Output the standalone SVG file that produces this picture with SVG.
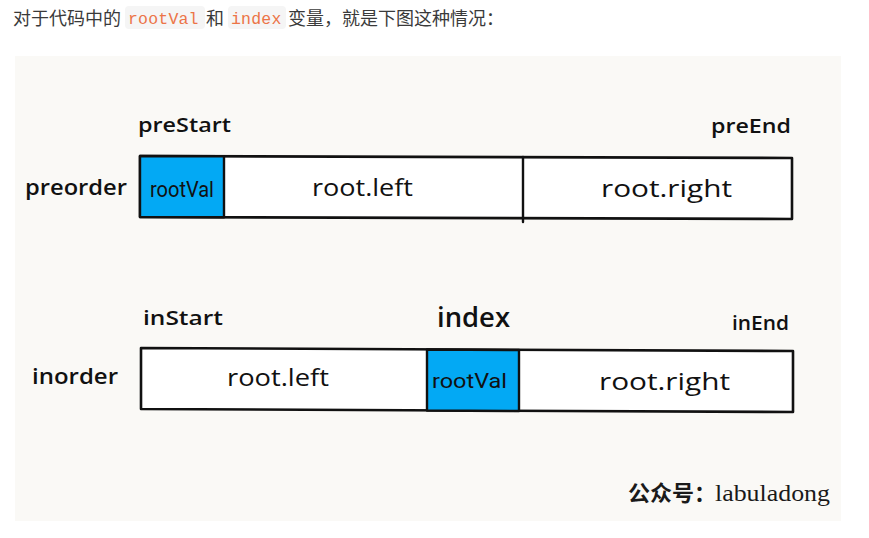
<svg xmlns="http://www.w3.org/2000/svg" width="869" height="538" viewBox="0 0 869 538">
<style>
.cn{font-family:"Noto Sans CJK SC","Noto Sans",sans-serif;font-size:18px;fill:#3a3a3a}
.code{font-family:"Liberation Mono",monospace;font-size:16.5px;fill:#ec7447;letter-spacing:0.2px}
.codebg{fill:#f5f5f5}
.lbl{font-family:"Open Sans","DejaVu Sans",sans-serif;font-weight:600;fill:#111}
.cell{font-family:"Open Sans","DejaVu Sans",sans-serif;font-weight:500;fill:#111}
.rv{font-family:"Roboto","Liberation Sans",sans-serif;font-weight:400;fill:#111}
.bar{fill:#ffffff;stroke:#111;stroke-width:2.6;stroke-linejoin:round}
.blue{fill:#03a9f4;stroke:#111;stroke-width:2.4;stroke-linejoin:round}
.div{stroke:#111;stroke-width:2.4;fill:none;stroke-linecap:round}
</style>
<rect width="869" height="538" fill="#ffffff"/>
<g id="caption">
<rect class="codebg" x="125" y="6" width="80" height="23" rx="4"/>
<rect class="codebg" x="228" y="6" width="58" height="23" rx="4"/>
<text class="cn" x="13" y="25">对于代码中的</text>
<text class="code" x="128" y="24">rootVal</text>
<text class="cn" x="206" y="25">和</text>
<text class="code" x="231" y="24">index</text>
<text class="cn" x="288" y="25">变量，就是下图这种情况：</text>
</g>
<rect id="panel" x="15" y="56" width="826" height="465" fill="#faf9f6"/>
<g id="preorder">
<text class="lbl" x="25" y="195" font-size="22" textLength="102" lengthAdjust="spacingAndGlyphs">preorder</text>
<text class="lbl" x="138" y="132" font-size="20" textLength="93" lengthAdjust="spacingAndGlyphs">preStart</text>
<text class="lbl" x="711" y="133" font-size="20" textLength="80" lengthAdjust="spacingAndGlyphs">preEnd</text>
<path class="bar" d="M140,156 L792,158 L792,219 L140,217 Z"/>
<path class="blue" d="M140,156 L224,156.3 L224,217.3 L140,217 Z"/>
<line class="div" x1="523" y1="157" x2="523" y2="222"/>
<text class="rv" x="150" y="197" font-size="22" textLength="64" lengthAdjust="spacingAndGlyphs">rootVal</text>
<text class="cell" x="312" y="196" font-size="24" textLength="101" lengthAdjust="spacingAndGlyphs">root.left</text>
<text class="cell" x="601" y="197" font-size="24" textLength="131" lengthAdjust="spacingAndGlyphs">root.right</text>
</g>
<g id="inorder">
<text class="lbl" x="32" y="384" font-size="22" textLength="86" lengthAdjust="spacingAndGlyphs">inorder</text>
<text class="lbl" x="143" y="325" font-size="20" textLength="80" lengthAdjust="spacingAndGlyphs">inStart</text>
<text class="lbl" x="437" y="327" font-size="27" textLength="73" lengthAdjust="spacingAndGlyphs">index</text>
<text class="lbl" x="732" y="330" font-size="19" textLength="57" lengthAdjust="spacingAndGlyphs">inEnd</text>
<path class="bar" d="M141,348 L793,351 L793,412 L141,409 Z"/>
<path class="blue" d="M427,349.5 L519,350 L519,411 L427,410.5 Z"/>
<text class="rv" x="432" y="388" font-size="21" textLength="75" lengthAdjust="spacingAndGlyphs">rootVal</text>
<text class="cell" x="227" y="386" font-size="24" textLength="102" lengthAdjust="spacingAndGlyphs">root.left</text>
<text class="cell" x="599" y="390" font-size="24" textLength="131" lengthAdjust="spacingAndGlyphs">root.right</text>
</g>
<g id="connectors"></g>
<g id="watermark">
<text x="628" y="501" font-family="Noto Sans CJK SC, sans-serif" font-weight="700" font-size="22" fill="#1a1a1a">公众号：</text>
<text x="715" y="501" font-family="Liberation Serif, serif" font-size="24" fill="#1a1a1a" textLength="115" lengthAdjust="spacingAndGlyphs">labuladong</text>
</g>
</svg>
